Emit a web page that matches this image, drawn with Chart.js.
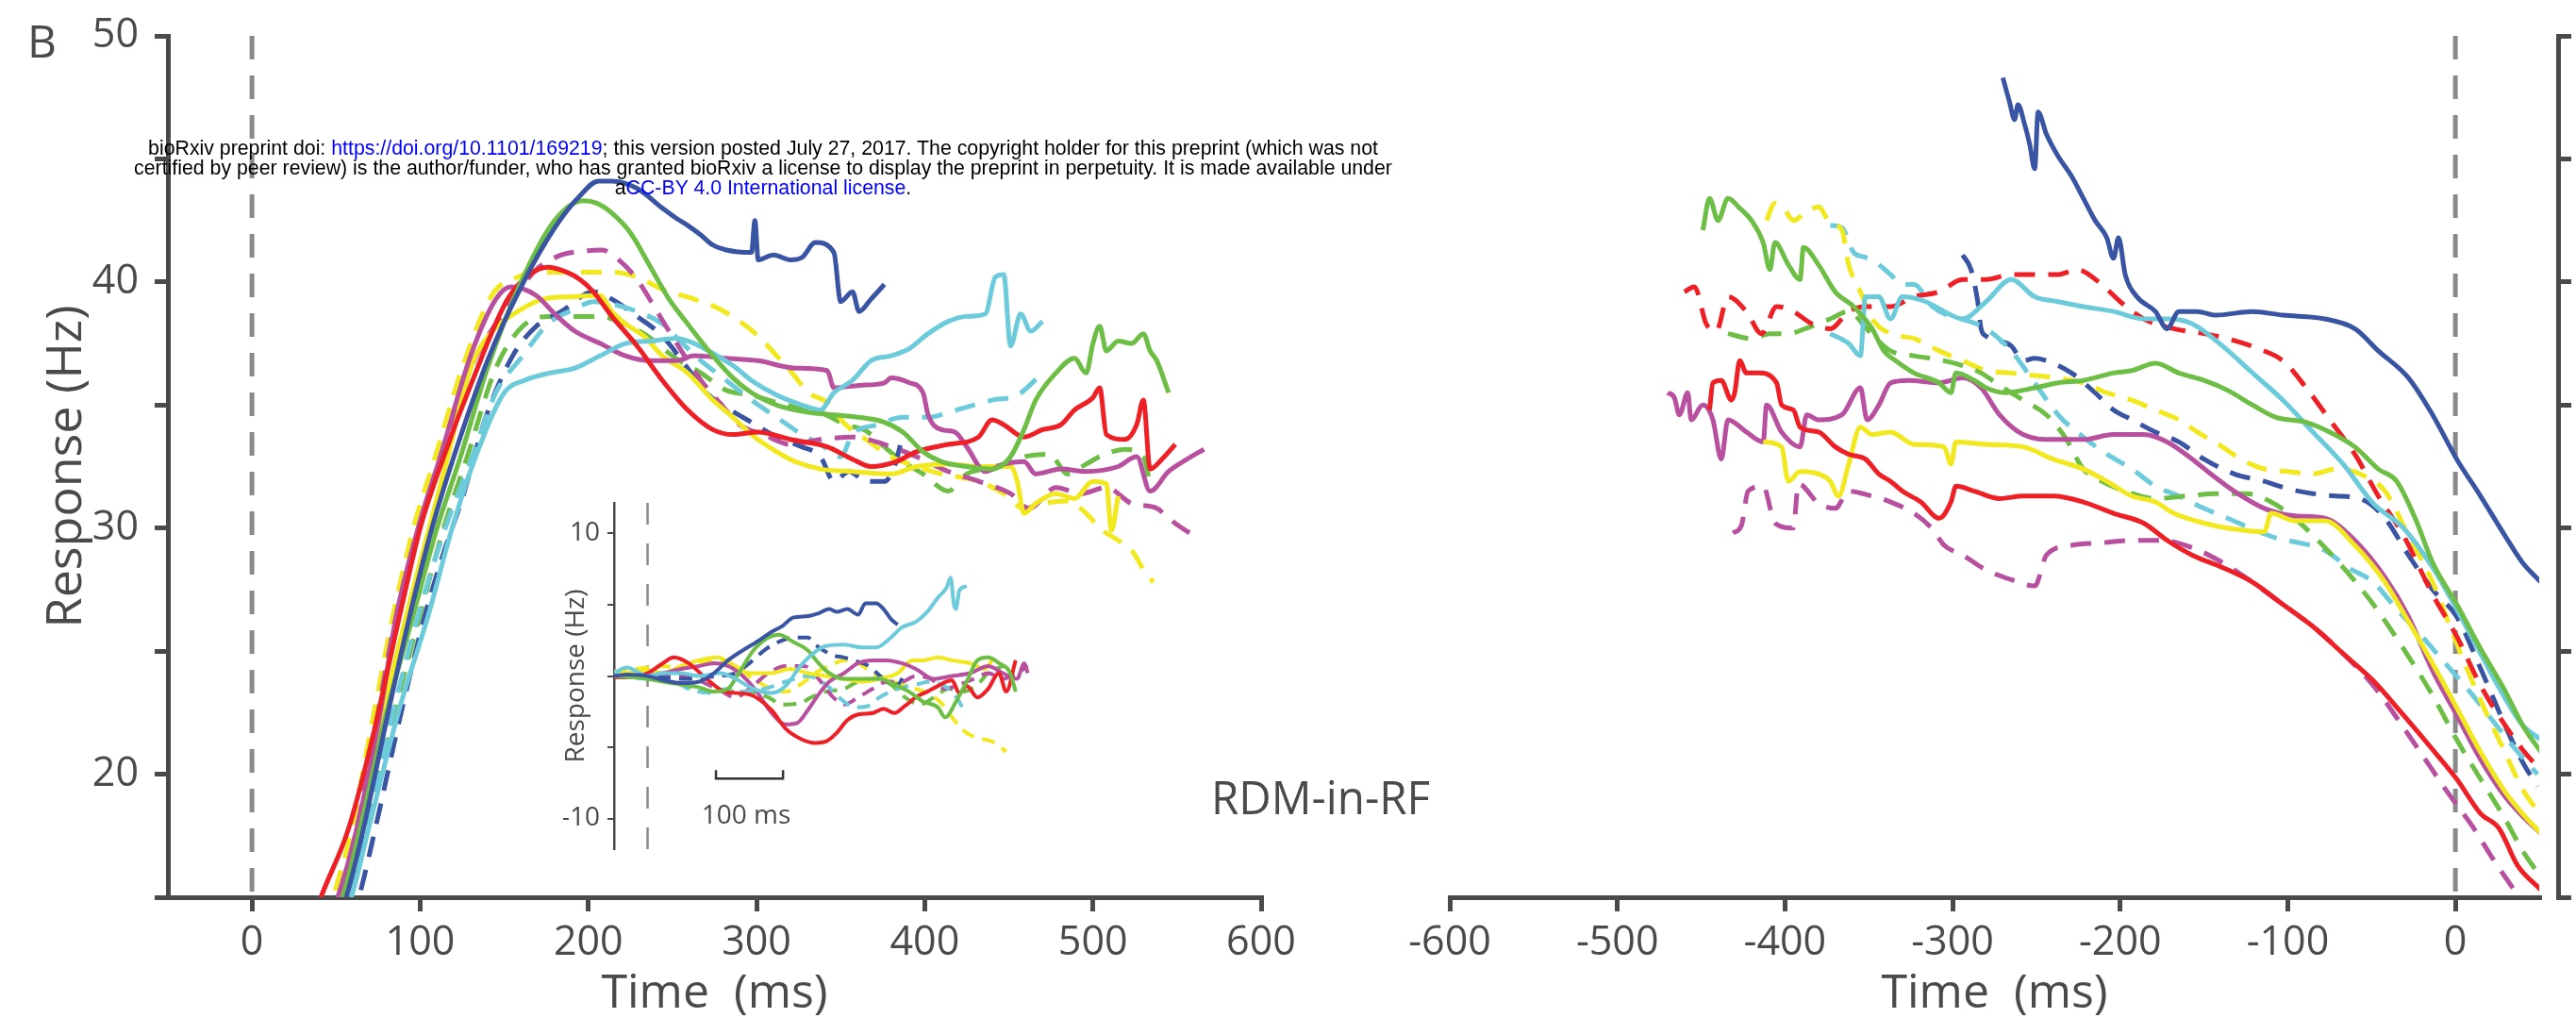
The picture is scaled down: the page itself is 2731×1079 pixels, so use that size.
<!DOCTYPE html>
<html>
<head>
<meta charset="utf-8">
<script src="https://cdn.jsdelivr.net/npm/chart.js@4"></script>
<style>
  html, body { margin: 0; padding: 0; background: #fff; }
  body { width: 2731px; height: 1079px; position: relative; overflow: hidden; font-family: 'Open Sans', sans-serif; color: #4a4a4a; }
  canvas { position: absolute; }
  .lbl { position: absolute; white-space: pre; line-height: 1; }
  #header { position: absolute; left: 0; width: 1618px; top: 147px; text-align: center; font-family: 'Liberation Sans', Arial, sans-serif; font-size: 21.3px; line-height: 21px; color: #000; white-space: nowrap; }
  #header span { color: #0000ff; }
</style>
</head>
<body>
<canvas id="left" width="1400" height="1079" style="left:0;top:0"></canvas>
<canvas id="right" width="1331" height="1079" style="left:1400px;top:0"></canvas>
<canvas id="rightAxis" width="81" height="1079" style="left:2650px;top:0"></canvas>
<canvas id="inset" width="516" height="400" style="left:597px;top:520px"></canvas>

<div class="lbl" style="left:29px;top:19px;font-size:48px">B</div>
<div class="lbl" style="left:1284px;top:819px;font-size:50px;transform:scaleX(0.95);transform-origin:left top">RDM-in-RF</div>
<div class="lbl" style="left:791px;top:862px;font-size:28px;transform:translate(-50%,-50%)">100 ms</div>
<div id="header">bioRxiv preprint doi: <span>https://doi.org/10.1101/169219</span>; this version posted July 27, 2017. The copyright holder for this preprint (which was not<br>certified by peer review) is the author/funder, who has granted bioRxiv a license to display the preprint in perpetuity. It is made available under<br>a<span>CC-BY 4.0 International license</span>.</div>

<script>
// tick values
const leftTicks = [0, 100, 200, 300, 400, 500, 600];
const rightTicks = [-600, -500, -400, -300, -200, -100, 0];
const yTicks = [15, 20, 25, 30, 35, 40, 45, 50];
const insetTicks = [-10, -5, 0, 5, 10];
const scaleBar = [[102, -6.6], [102, -7.2], [202, -7.2], [202, -6.6]];

// aligned to motion onset: [time ms, response Hz]
const leftBlue = [[50,14],[56,15],[66,17.7],[80,22.2],[94,26.5],[107,30],[120,32.9],[140,36.8],[160,39.8],[180,42.2],[195,43.5],[206,44.1],[214,44.1],[229,43.8],[244,43.0],[252,42.6],[259,42.3],[267,41.9],[274,41.5],[282,41.3],[297,41.2],[299,42.5],[301,40.9],[310,41.1],[320,40.9],[327,41.0],[335,41.6],[346,41.2],[350,39.2],[357,39.6],[361,38.8],[368,39.3],[376,39.9]];
const leftGreen = [[48,14],[54,15],[64,17.7],[80,22.5],[96,26.5],[110,30],[124,32.9],[140,36.5],[160,40],[180,42.5],[197,43.3],[205,43.2],[214,42.8],[225,42.0],[237,40.6],[248,39.3],[259,38.3],[274,37.0],[286,36.1],[297,35.5],[312,35.0],[331,34.7],[346,34.6],[361,34.5],[376,34.3],[387,33.9],[399,33.1],[410,32.7],[425,32.5],[440,32.4],[451,32.9],[459,34],[466,35.2],[478,36.3],[489,36.9],[496,36.3],[500,37.5],[504,38.2],[508,37.2],[515,37.6],[523,37.5],[530,37.9],[534,37.2],[538,36.8],[545,35.5]];
const leftRed = [[35,13.8],[41,15],[57,17.7],[70,21],[88,26.5],[100,30],[114,32.9],[130,35.8],[152,39.3],[165,40.3],[176,40.6],[187,40.4],[195,40.1],[203,39.6],[214,38.6],[229,37.4],[244,36.0],[259,34.8],[274,34.0],[286,33.8],[301,33.9],[320,33.6],[342,33.3],[357,32.8],[368,32.5],[383,32.7],[395,33.1],[414,33.4],[432,33.7],[440,34.4],[447,34.2],[459,33.7],[470,34.0],[481,34.2],[489,34.8],[500,35.3],[504,35.7],[508,33.8],[519,33.6],[526,34.2],[530,35.2],[534,32.4],[541,32.8],[549,33.4]];
const leftMagenta = [[45,14],[51,15],[62,17.7],[75,22],[86,26.5],[100,30.3],[112,32.9],[130,37],[145,39.3],[154,39.8],[169,39.45],[180,38.7],[192,38.0],[207,37.5],[222,37.0],[237,36.8],[252,36.8],[263,37.0],[282,36.9],[301,36.8],[323,36.5],[342,36.4],[346,35.7],[361,35.8],[376,35.9],[380,36.1],[391,35.9],[399,35.5],[402,34.6],[410,34.0],[418,33.9],[425,33.3],[436,32.3],[447,32.6],[459,32.7],[466,32.2],[481,32.4],[496,32.3],[515,32.5],[526,32.9],[534,31.5],[545,32.3],[556,32.8],[566,33.2]];
const leftYellow = [[45,14],[52,15],[63,17.7],[78,22.5],[92,26.5],[115,32.5],[130,36.5],[143,38.0],[158,38.8],[173,39.3],[190,39.4],[207,39.45],[214,38.8],[222,38.3],[233,37.8],[244,37.0],[259,36.3],[274,35.2],[286,34.5],[297,33.8],[312,33.1],[323,32.7],[338,32.4],[357,32.3],[380,32.2],[395,32.5],[414,32.6],[432,32.5],[451,32.5],[455,31.9],[459,30.6],[466,31.0],[478,31.4],[489,31.2],[500,31.9],[508,31.8],[511,29.9],[515,31.3]];
const leftCyan = [[52,14],[59,15],[69,17.7],[87,22.5],[105,26.5],[119,30],[133,32.9],[150,35.5],[162,36.0],[177,36.3],[192,36.5],[207,37.0],[222,37.5],[237,37.6],[252,37.7],[263,37.5],[274,37.1],[286,36.6],[297,36.0],[312,35.4],[327,35.0],[338,34.8],[346,35.5],[357,36.0],[368,36.8],[380,37.0],[391,37.3],[402,37.9],[414,38.4],[425,38.6],[436,38.7],[442,40.2],[447,40.3],[451,37.4],[457,38.7],[463,38.0],[470,38.4]];
const leftMagentaD = [[45,14],[51,15],[62,17.7],[86,26.5],[112,32.9],[130,36.5],[150,38.8],[169,40.5],[184,41.1],[196,41.25],[208,41.3],[218,40.9],[229,40.1],[240,38.9],[248,38.0],[267,36.0],[278,35.1],[290,34.2],[304,33.8],[320,33.4],[338,33.6],[357,33.7],[376,33.4],[395,32.9],[414,32.3],[432,31.9],[451,31.4],[462,30.8],[478,31.65],[493,31.4],[508,31.65],[523,31.0],[538,30.8],[545,30.4],[553,30.0],[560,29.7]];
const leftYellowD = [[42,14],[48,15],[59,17.7],[72,22.3],[84,26.5],[96,30],[109,32.9],[125,36.5],[143,39.5],[158,40.2],[169,40.4],[190,40.4],[214,40.4],[229,40.2],[244,39.7],[263,39.3],[278,38.9],[290,38.4],[301,37.8],[312,37.0],[320,36.4],[331,35.5],[342,35.1],[353,34.2],[365,33.6],[380,32.9],[395,32.5],[410,32.2],[432,31.9],[447,31.4],[459,30.8],[470,31.0],[485,31.1],[496,30.6],[504,30.0],[515,29.5],[523,29.1],[532,28.1],[536,27.8]];
const leftCyanD = [[50,14],[57,15],[67,17.7],[83,22.3],[99,26.5],[115,30],[131,32.9],[145,35.5],[161,37.0],[176,38.3],[192,38.9],[203,39.2],[214,39.1],[229,38.8],[244,38.3],[256,37.5],[267,36.8],[282,36.0],[297,35.2],[312,34.5],[327,33.8],[338,33.4],[350,32.9],[357,33.8],[372,34.2],[387,34.5],[402,34.5],[414,34.7],[429,35.0],[440,35.2],[455,35.4],[470,36.3]];
const leftBlueD = [[58,14],[63.5,15],[73,17.7],[88,22.3],[103,26.5],[114,29],[125,31.2],[139,34.5],[155,37],[169,38.2],[184,38.8],[203,39.6],[214,39.3],[229,38.6],[244,37.8],[259,36.5],[270,35.5],[282,34.9],[297,34.3],[312,33.7],[327,33.3],[338,32.9],[346,31.9],[355,32.3],[365,31.9],[376,31.9],[382,32.5],[387,33.8]];
const leftGreenD = [[52,14],[57,15],[68,17.7],[84,22.3],[100,26.5],[114,30],[128,32.9],[145,36.5],[161,38.2],[176,38.6],[192,38.6],[207,38.6],[218,38.4],[233,37.9],[252,36.9],[267,36.3],[282,35.6],[297,35.4],[312,35.1],[327,34.85],[338,34.7],[353,34.2],[365,33.95],[376,33.3],[387,32.7],[399,32.2],[414,31.5],[425,32.2],[436,32.4],[447,32.6],[459,32.9],[474,33.0],[485,32.2],[496,32.6],[504,32.9],[519,33.2],[530,32.9],[534,31.8]];

// aligned to saccade onset: [time ms, response Hz]
const rightBlue = [[-270,48.3],[-266,47.3],[-263,46.6],[-261,47.2],[-257,46.4],[-254,45.6],[-251,44.6],[-249,46.9],[-244,46.0],[-237,45.1],[-229,44.3],[-222,43.4],[-215,42.5],[-208,41.8],[-204,40.96],[-201,41.8],[-197,40.3],[-190,39.4],[-179,38.8],[-172,38.1],[-165,38.8],[-154,38.8],[-143,38.65],[-121,38.8],[-103,38.65],[-78,38.5],[-60,38.1],[-46,37.2],[-28,36.1],[-13.6,34.6],[0.8,32.8],[15,31.3],[29.5,29.7],[40,28.6],[51,27.8]];
const rightCyan = [[-373,37.9],[-362,37.5],[-355,37.0],[-352,39.4],[-344,39.4],[-337,38.5],[-330,39.4],[-316,39.2],[-305,38.8],[-294,38.5],[-280,39.2],[-265,40.1],[-251,39.4],[-237,39.2],[-222,39.0],[-204,38.8],[-186,38.5],[-172,38.5],[-157,38.3],[-139,37.4],[-121,36.3],[-103,35.2],[-85,33.9],[-67,32.6],[-49,31.0],[-31,30.0],[-13.6,28.4],[0.8,26.7],[15,24.9],[29.5,23.1],[40,22.0],[51,21.4]];
const rightGreen = [[-449,42.1],[-445,43.4],[-440,42.5],[-434,43.4],[-427,43],[-420,42.5],[-413,41.6],[-409,40.5],[-406,41.6],[-398,40.7],[-391,40.1],[-389,41.4],[-380,40.7],[-370,39.6],[-359,39.0],[-348,38.1],[-341,37.2],[-334,36.8],[-323,36.3],[-308,35.9],[-301,35.5],[-298,36.3],[-287,36.0],[-280,35.7],[-269,35.5],[-251,35.7],[-237,35.9],[-222,36.0],[-204,36.3],[-193,36.4],[-179,36.7],[-165,36.3],[-150,36.0],[-136,35.6],[-121,35.0],[-107,34.5],[-89,34.3],[-75,33.9],[-60,33.3],[-46,32.4],[-35,31.9],[-24,30.4],[-13.6,28.6],[0.8,26.9],[15,25.1],[29.5,23.4],[40,22.0],[51,20.9]];
const rightRed = [[-445,34.8],[-443,35.9],[-438,36.0],[-432,35.2],[-430,35.5],[-427,36.8],[-423,36.3],[-416,36.3],[-405,35.9],[-402,35.0],[-395,34.8],[-391,34.1],[-380,33.9],[-370,33.3],[-362,33.0],[-352,32.8],[-344,32.2],[-337,31.9],[-330,31.5],[-319,31.06],[-308,30.4],[-301,31.06],[-298,31.7],[-287,31.5],[-272,31.2],[-258,31.3],[-240,31.3],[-222,31.06],[-204,30.6],[-186,30.2],[-172,29.5],[-157,28.9],[-139,28.4],[-121,27.8],[-103,26.9],[-85,26.0],[-67,24.9],[-49,23.8],[-31,22.4],[-13.6,21.0],[0.8,19.8],[15,18.4],[26,17.8],[37,16.3],[51,15.3]];
const rightMagenta = [[-470,35.5],[-466,35.3],[-463,34.6],[-458,35.5],[-456,34.4],[-449,35.0],[-443,34.4],[-438,32.8],[-434,34.4],[-423,33.9],[-413,33.5],[-411,35.0],[-402,33.9],[-391,33.3],[-387,34.6],[-380,34.4],[-366,34.6],[-355,35.7],[-351,34.4],[-344,35.0],[-337,35.9],[-326,36.0],[-308,35.9],[-294,36.1],[-283,35.7],[-272,34.6],[-258,33.8],[-240,33.6],[-222,33.6],[-204,33.8],[-186,33.8],[-172,33.5],[-157,32.8],[-146,32.2],[-132,31.5],[-114,30.8],[-96,30.5],[-78,30.4],[-60,29.5],[-42,28.0],[-28,26.4],[-13.6,24.2],[0.8,22.4],[15,20.6],[29.5,19.1],[40,18.3],[51,17.6]];
const rightYellow = [[-413,33.5],[-402,33.3],[-398,31.9],[-391,32.3],[-380,32.2],[-373,31.9],[-368,31.3],[-362,32.6],[-355,34.1],[-348,33.8],[-337,33.9],[-323,33.4],[-305,33.3],[-301,32.6],[-298,33.5],[-280,33.4],[-258,33.3],[-240,32.8],[-222,32.4],[-208,31.9],[-193,31.3],[-179,31.06],[-168,30.6],[-150,30.2],[-132,29.96],[-114,29.85],[-110,30.6],[-96,30.3],[-78,30.3],[-60,29.3],[-42,27.8],[-28,26.2],[-13.6,24.5],[0.8,22.7],[15,20.9],[29.5,19.3],[40,18.4],[51,17.6]];
const rightRedD = [[-460,39.6],[-454,39.8],[-447,38.3],[-441,38.0],[-434,39.4],[-423,38.8],[-414,37.9],[-405,39.0],[-395,38.8],[-384,38.3],[-373,38.1],[-362,38.8],[-352,39.0],[-337,39.0],[-323,39.4],[-308,39.6],[-294,40.1],[-280,40.1],[-265,40.3],[-251,40.3],[-237,40.3],[-226,40.5],[-211,39.9],[-200,39.2],[-186,38.5],[-168,38.1],[-150,37.9],[-136,37.7],[-118,37.3],[-103,36.8],[-89,35.7],[-75,34.4],[-60,33.0],[-46,31.3],[-31,29.7],[-13.6,27.3],[0.8,25.6],[15,23.6],[29.5,22.0],[40,21.0],[49,20.3]];
const rightGreenD = [[-434,37.9],[-420,37.7],[-409,37.9],[-398,37.9],[-388,38.1],[-373,38.5],[-362,38.8],[-350,38.0],[-337,37.2],[-323,37.0],[-305,36.8],[-294,36.6],[-283,36.3],[-272,35.8],[-258,35.2],[-244,34.6],[-233,33.7],[-222,32.4],[-211,31.9],[-197,31.5],[-179,31.2],[-161,31.3],[-143,31.4],[-125,31.4],[-110,31.06],[-96,30.4],[-82,29.5],[-67,28.4],[-49,26.9],[-31,25.1],[-13.6,23.2],[0.8,21.4],[15,19.8],[29.5,18.2],[40,16.9],[49,16.0]];
const rightYellowD = [[-411,42.5],[-406,43.2],[-400,42.9],[-395,42.5],[-388,42.8],[-380,43.05],[-373,42.4],[-366,42.1],[-362,40.7],[-355,39.6],[-348,38.5],[-337,37.9],[-323,37.7],[-308,37.2],[-294,36.8],[-280,36.4],[-265,36.3],[-251,36.2],[-237,36.1],[-222,35.9],[-208,35.5],[-193,35.2],[-179,34.8],[-165,34.4],[-154,33.9],[-139,33.3],[-128,32.8],[-114,32.4],[-100,32.3],[-85,32.2],[-71,32.4],[-57,32.2],[-42,31.5],[-28,29.7],[-13.6,27.8],[0.8,25.3],[15,23.0],[29.5,20.9],[40,19.4],[49,18.5]];
const rightCyanD = [[-373,42.3],[-366,42.2],[-359,41.2],[-352,41.0],[-344,40.7],[-337,40.3],[-330,39.9],[-323,39.9],[-312,39.0],[-280,38.1],[-265,37.2],[-251,35.9],[-237,34.6],[-222,33.7],[-208,33.0],[-193,32.4],[-179,31.7],[-165,31.3],[-150,30.8],[-136,30.4],[-121,29.96],[-107,29.6],[-93,29.4],[-78,29.1],[-64,28.4],[-49,27.8],[-35,26.7],[-20,25.6],[-6,24.5],[8,23.4],[22,22.2],[36,21.0],[49,20.0]];
const rightBlueD = [[-294,41.1],[-289,40.5],[-285,39.2],[-283,38.1],[-280,37.8],[-265,37.4],[-258,36.8],[-251,36.9],[-244,36.8],[-229,36.3],[-215,35.5],[-204,34.8],[-193,34.4],[-179,33.9],[-165,33.5],[-150,32.8],[-132,32.2],[-114,31.9],[-100,31.6],[-85,31.4],[-71,31.3],[-57,31.2],[-42,30.4],[-28,28.9],[-13.6,27.5],[0.8,26.4],[15,24.3],[29.5,22.0],[40,20.5],[49,19.5]];
const rightMagentaD = [[-431,29.8],[-426,30.1],[-422,31.5],[-413,31.7],[-406,30.2],[-395,30.0],[-392,31.8],[-380,31.0],[-370,30.8],[-362,31.5],[-348,31.3],[-337,31.06],[-323,30.6],[-312,29.96],[-305,29.3],[-294,28.9],[-280,28.3],[-265,27.9],[-251,27.65],[-244,28.9],[-229,29.3],[-211,29.4],[-193,29.5],[-175,29.5],[-157,29.2],[-139,28.6],[-121,27.8],[-103,26.9],[-85,26.0],[-67,24.9],[-49,23.6],[-32,22.0],[-18,20.6],[-4,19.2],[10,17.9],[22,16.6],[35,15.3],[45,14.3]];

// inset, baseline subtracted: [time ms, response Hz]
const insetBlue = [[-50,0],[-30,0.1],[0,0],[23,-0.3],[50,-0.5],[77,-0.4],[99,0.2],[120,1.1],[142,1.8],[163,2.4],[185,3.1],[201,3.5],[217,4.1],[239,4.2],[255,4.4],[271,4.7],[282,4.5],[298,4.7],[314,4.3],[325,5.1],[341,5.1],[352,4.7],[363,4.0],[373,3.6]];
const insetCyan = [[-50,0.2],[-31,0.6],[0,0],[23,0.2],[50,0.2],[77,0],[109,0.2],[131,-0.2],[158,-0.9],[185,-1.2],[206,-0.7],[228,0.7],[250,1.7],[266,2.1],[293,2.2],[320,2.0],[341,2.0],[363,2.7],[379,3.4],[400,3.8],[417,4.5],[433,5.5],[446,6.2],[452,6.9],[457,5.0],[460,4.7],[465,6.0],[476,6.3]];
const insetRed = [[-50,-0.1],[-20,0],[0,0.2],[23,0.9],[39,1.3],[61,0.9],[88,-0.2],[115,-1.1],[152,-1.3],[185,-2.4],[206,-3.7],[228,-4.4],[250,-4.7],[266,-4.6],[282,-4.0],[298,-3.1],[314,-2.7],[336,-2.6],[352,-2.3],[368,-2.6],[384,-2.1],[400,-1.5],[417,-1.1],[433,-0.7],[454,-0.3],[465,-1.2],[476,-0.7],[492,-1.5],[508,-0.9],[524,0.2],[535,-1.1],[549,1.1]];
const insetMagenta = [[-50,-0.1],[0,0],[23,0.2],[50,0.5],[77,0.7],[99,0.9],[120,0.7],[142,0],[163,-1.1],[185,-2.6],[206,-3.4],[223,-3.3],[239,-2.4],[255,-1.3],[271,-0.4],[293,0.2],[314,0.9],[336,1.1],[357,1.1],[379,0.9],[400,0.5],[427,-0.2],[454,0],[481,0.2],[508,0.7],[530,0.2],[551,-0.2],[562,0.9],[567,0.2]];
const insetYellow = [[-50,0],[0,0.4],[23,0.2],[50,0.7],[77,1.1],[104,1.3],[131,0.7],[152,0.2],[185,0.2],[212,0.5],[239,0.2],[266,0],[293,-0.2],[320,-0.4],[346,-0.2],[373,0.2],[395,1.1],[411,1.1],[433,1.3],[454,1.1],[481,0.9],[503,0.5],[514,1.1]];
const insetGreen = [[-50,0],[0,-0.2],[23,-0.4],[50,-0.6],[77,-0.8],[99,-1.1],[120,-0.9],[136,0.2],[158,1.8],[180,2.7],[196,2.9],[217,2.4],[239,1.8],[255,0.9],[271,0.2],[293,-0.2],[320,-0.2],[346,-0.2],[368,-0.6],[390,-1.1],[411,-1.8],[433,-2.2],[444,-2.9],[460,-1.8],[476,-0.4],[492,1.1],[508,1.3],[524,0.9],[541,0.2],[549,-1.1]];
const insetBlueD = [[-50,0],[0,0],[50,-0.2],[104,0],[131,0.2],[152,0.9],[174,1.8],[196,2.4],[217,2.7],[239,2.7],[250,2.2],[277,1.45],[293,1.3],[314,1.0],[330,0.7],[352,-0.2],[373,-0.6],[384,0.2]];
const insetCyanD = [[-50,0.2],[0,-0.2],[30,-0.2],[61,-0.9],[93,-1.2],[120,-0.9],[142,-1.1],[174,-0.9],[206,-0.4],[239,0],[266,-0.6],[293,-1.8],[309,-2.2],[330,-2.1],[346,-1.5],[373,-0.9],[400,-0.6],[422,-0.4],[449,-0.9],[465,-1.8],[473,-2.6]];
const insetMagentaD = [[-50,0],[0,0],[50,0],[104,-0.9],[131,-1.5],[152,-0.9],[180,0.2],[206,0.7],[233,0.7],[255,-0.2],[277,-1.5],[293,-2.0],[314,-1.5],[336,-0.9],[357,-0.4],[379,-0.4],[400,0],[422,-0.2],[444,-0.9],[465,-0.6],[487,-0.2],[508,0.2],[530,-0.2],[551,0.2],[567,0.7]];
const insetYellowD = [[-50,0.3],[0,0.6],[23,0.7],[50,0.5],[77,0.9],[104,1.1],[131,0.7],[158,-0.2],[185,-0.9],[206,-1.1],[228,-0.6],[250,0.2],[271,0.7],[293,1.1],[314,0.9],[336,0.2],[357,-0.2],[379,-0.6],[400,-0.9],[422,-1.3],[444,-2.2],[454,-2.9],[476,-4.0],[497,-4.4],[514,-4.6],[535,-5.3]];
const insetGreenD = [[-50,0],[0,-0.2],[50,-0.6],[88,-1.1],[120,-1.1],[147,-1.1],[180,-1.5],[201,-2.0],[228,-1.9],[244,-1.5],[266,-1.1],[293,-0.9],[314,-0.4],[341,-0.2],[363,-0.6],[384,-1.5],[406,-2.0],[427,-1.5],[449,-0.9],[470,-1.1],[492,-0.6],[508,0.2],[530,0.7]];

const AXIS = '#4a4a4a';
const ZERO = '#8a8a8a';
const C = {
    blue: '#3a54a4',
    cyan: '#6ccbdb',
    green: '#6dbe45',
    red: '#ee1f25',
    magenta: '#b84f9f',
    yellow: '#f2e81e'
};

Chart.defaults.font.family = "'Open Sans', sans-serif";
Chart.defaults.color = AXIS;

const pts = arr => arr.map(([x, y]) => ({ x, y }));

function curve(arr, color, dashed, width, dash) {
    return {
        data: pts(arr),
        borderColor: color,
        borderWidth: width,
        borderDash: dashed ? dash : [],
        pointRadius: 0,
        fill: false,
        cubicInterpolationMode: 'monotone',
        borderCapStyle: 'butt'
    };
}

function straight(arr, color, width, dash) {
    return {
        data: pts(arr),
        borderColor: color,
        borderWidth: width,
        borderDash: dash,
        pointRadius: 0,
        fill: false,
        tension: 0
    };
}

const mainDash = [22, 14];
const insetDash = [14, 9];

function setTicks(values) {
    return scale => { scale.ticks = values.map(v => ({ value: v })); };
}

// fixed axis size, and no extra room for the end labels
function fixWidth(w) {
    return s => { s.width = w; s.paddingTop = 0; s.paddingBottom = 0; };
}

function yAxisLeft() {
    return {
        min: 15, max: 50,
        afterBuildTicks: setTicks(yTicks),
        afterFit: fixWidth(178),
        border: { color: AXIS, width: 5 },
        grid: { drawOnChartArea: false, color: AXIS, lineWidth: 5, tickLength: 14 },
        ticks: { font: { size: 43 }, color: AXIS, padding: 17, callback: v => (v % 10 === 0 ? v : '') },
        title: { display: true, text: 'Response (Hz)', font: { size: 52, lineHeight: 1 }, color: AXIS, padding: { top: 45, bottom: 0 } }
    };
}

function xAxis(min, max, ticks) {
    return {
        type: 'linear', min: min, max: max,
        afterBuildTicks: setTicks(ticks),
        afterFit: s => { s.height = 128; },
        border: { color: AXIS, width: 5 },
        grid: { drawOnChartArea: false, color: AXIS, lineWidth: 5, tickLength: 15 },
        ticks: { font: { size: 43 }, color: AXIS, padding: 8, maxRotation: 0, autoSkip: false },
        title: { display: true, text: 'Time  (ms)', font: { size: 50, lineHeight: 1 }, color: AXIS, padding: 0 }
    };
}

const baseOptions = {
    responsive: false,
    animation: false,
    events: [],
    plugins: { legend: { display: false }, tooltip: { enabled: false } }
};

// Left: aligned to motion onset
new Chart(document.getElementById('left'), {
    type: 'line',
    data: {
        datasets: [
            curve(leftBlue, C.blue, false, 5),
            curve(leftGreen, C.green, false, 5),
            curve(leftRed, C.red, false, 5),
            curve(leftCyan, C.cyan, false, 5),
            curve(leftMagenta, C.magenta, false, 5),
            curve(leftYellow, C.yellow, false, 5),
            curve(leftMagentaD, C.magenta, true, 5, mainDash),
            curve(leftYellowD, C.yellow, true, 5, mainDash),
            curve(leftCyanD, C.cyan, true, 5, mainDash),
            curve(leftBlueD, C.blue, true, 5, mainDash),
            curve(leftGreenD, C.green, true, 5, mainDash),
            straight([[0, 50], [0, 15]], ZERO, 5, [25, 17])
        ]
    },
    options: {
        ...baseOptions,
        layout: { padding: { top: 38, right: 63, left: 0, bottom: 0 } },
        scales: { x: xAxis(-50, 600, leftTicks), y: yAxisLeft() }
    }
});

// Right: aligned to saccade onset
new Chart(document.getElementById('right'), {
    type: 'line',
    data: {
        datasets: [
            curve(rightBlue, C.blue, false, 5),
            curve(rightGreen, C.green, false, 5),
            curve(rightCyan, C.cyan, false, 5),
            curve(rightRed, C.red, false, 5),
            curve(rightYellow, C.yellow, false, 5),
            curve(rightMagenta, C.magenta, false, 5),
            curve(rightRedD, C.red, true, 5, mainDash),
            curve(rightGreenD, C.green, true, 5, mainDash),
            curve(rightYellowD, C.yellow, true, 5, mainDash),
            curve(rightCyanD, C.cyan, true, 5, mainDash),
            curve(rightBlueD, C.blue, true, 5, mainDash),
            curve(rightMagentaD, C.magenta, true, 5, mainDash),
            straight([[0, 50], [0, 15]], ZERO, 5, [25, 17])
        ]
    },
    options: {
        ...baseOptions,
        layout: { padding: { top: 38, right: 39, left: 137, bottom: 0 } },
        scales: { x: xAxis(-600, 50, rightTicks), y: { display: false, min: 15, max: 50 } }
    }
});

// right-hand y axis, offset from the data area
new Chart(document.getElementById('rightAxis'), {
    type: 'line',
    data: { datasets: [] },
    options: {
        ...baseOptions,
        layout: { padding: { top: 38, right: 0, left: 0, bottom: 128 } },
        scales: {
            x: { type: 'linear', display: false, min: 0, max: 1 },
            y: {
                position: 'right', min: 15, max: 50,
                afterBuildTicks: setTicks(yTicks),
                afterFit: fixWidth(19),
                border: { color: AXIS, width: 5 },
                grid: { drawOnChartArea: false, color: AXIS, lineWidth: 5, tickLength: 14 },
                ticks: { padding: 0, callback: () => '' }
            }
        }
    }
});

// Inset
new Chart(document.getElementById('inset'), {
    type: 'line',
    data: {
        datasets: [
            curve(insetBlue, C.blue, false, 4),
            curve(insetCyan, C.cyan, false, 4),
            curve(insetGreen, C.green, false, 4),
            curve(insetRed, C.red, false, 4),
            curve(insetMagenta, C.magenta, false, 4),
            curve(insetYellow, C.yellow, false, 4),
            curve(insetBlueD, C.blue, true, 4, insetDash),
            curve(insetCyanD, C.cyan, true, 4, insetDash),
            curve(insetMagentaD, C.magenta, true, 4, insetDash),
            curve(insetGreenD, C.green, true, 4, insetDash),
            curve(insetYellowD, C.yellow, true, 4, insetDash),
            straight(scaleBar, '#333333', 2.5, []),
            straight([[0, 12.15], [0, -12.15]], ZERO, 2.5, [23, 20])
        ]
    },
    options: {
        ...baseOptions,
        layout: { padding: { top: 13, right: 0, left: 0, bottom: 20 } },
        scales: {
            x: { type: 'linear', display: false, min: -50, max: 600 },
            y: {
                min: -12.15, max: 12.15,
                afterBuildTicks: setTicks(insetTicks),
                afterFit: fixWidth(54),
                border: { color: AXIS, width: 2.5 },
                grid: { drawOnChartArea: false, color: AXIS, lineWidth: 2, tickLength: 7 },
                ticks: { font: { size: 28 }, color: AXIS, padding: 8, callback: v => (Math.abs(v) === 10 ? v : '') },
                title: { display: true, text: 'Response (Hz)', font: { size: 28, lineHeight: 1 }, color: AXIS, padding: { top: 0, bottom: 0 } }
            }
        }
    }
});
</script>
</body>
</html>
